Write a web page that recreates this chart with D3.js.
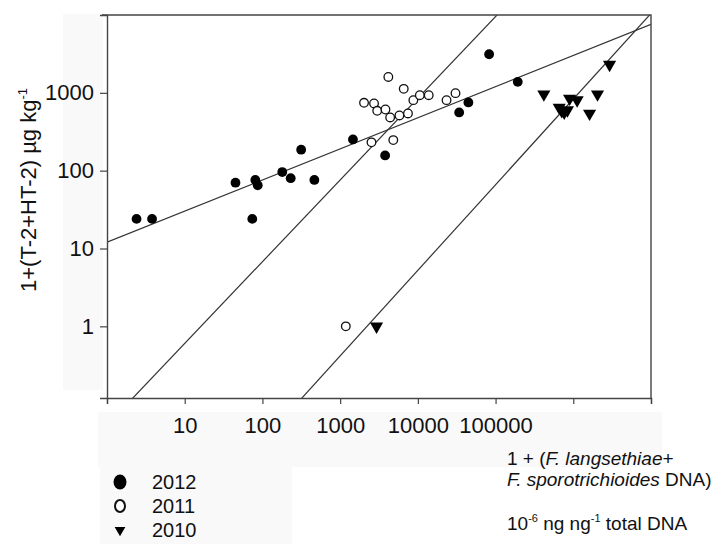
<!DOCTYPE html>
<html>
<head>
<meta charset="UTF-8" />
<title>T-2+HT-2 vs Fusarium DNA</title>
<script src="https://cdn.jsdelivr.net/npm/d3@7"></script>
<style>
  body { margin: 0; background: #fff; }
  svg { font-family: "Liberation Sans", Arial, sans-serif; }
</style>
</head>
<body>
<svg id="chart" width="718" height="544"></svg>
<script>
// axis ticks
const xTicks = [1, 10, 100, 1000, 10000, 100000, 1000000, 10000000];
const xTickLabels = ["", "10", "100", "1000", "10000", "100000", "", ""];
const yTicks = [1, 10, 100, 1000];
const yTickLabels = ["1", "10", "100", "1000"];

// 2012 (filled circles)
const dna2012 = [2.4, 3.8, 45, 74, 81, 87, 180, 231, 315, 466, 1462, 3790, 34000, 44700, 82600, 193000];
const tox2012 = [24, 24, 70, 24, 76, 65, 96, 80, 186, 76, 252, 157, 560, 752, 3130, 1384];
// 2011 (open circles)
const dna2011 = [4170, 6580, 2030, 2730, 3000, 3830, 4400, 5790, 7460, 8750, 10600, 13800, 23400, 30500, 2530, 4830, 1183];
const tox2011 = [1600, 1125, 745, 730, 588, 611, 483, 512, 543, 805, 933, 933, 805, 990, 231, 247, 1.0];
// 2010 (triangles)
const dna2010 = [418000, 659000, 710000, 764000, 841000, 896000, 1120000, 1620000, 2050000, 2930000, 2940];
const tox2010 = [961, 649, 587, 559, 600, 845, 806, 543, 961, 2310, 1.0];

// regression lines, log10(y) = a + b*log10(x)
const fitYears = ["2012", "2011", "2010"];
const fitSlope = [0.40, 1.05, 1.10];
const fitIntercept = [1.08, -1.27, -3.68];

const legendYears = ["2012", "2011", "2010"];

const svg = d3.select("#chart");
const pLeft = 107, pRight = 651, pTop = 15, pBottom = 398;

const x = d3.scaleLog().domain([1, 1e7]).range([pLeft, pRight]);
const y = d3.scaleLog().domain([0.12, 10000]).range([pBottom, pTop]);

// faint patches behind the labels
const bg = "#f9f9f9";
svg.append("rect").attr("x", 63).attr("y", 14).attr("width", 40).attr("height", 376).attr("fill", bg);
svg.append("rect").attr("x", 98).attr("y", 412).attr("width", 564).attr("height", 55).attr("fill", bg);
svg.append("rect").attr("x", 100).attr("y", 467).attr("width", 192).attr("height", 77).attr("fill", bg);

svg.append("defs").append("clipPath").attr("id", "plot")
  .append("rect").attr("x", pLeft).attr("y", pTop).attr("width", pRight - pLeft).attr("height", pBottom - pTop);

// fit lines
const fits = fitYears.map((yr, i) => ({ a: fitIntercept[i], b: fitSlope[i] }));
svg.append("g").attr("clip-path", "url(#plot)")
  .selectAll("line").data(fits).enter().append("line")
  .attr("x1", x(1)).attr("y1", d => y(Math.pow(10, d.a)))
  .attr("x2", x(1e7)).attr("y2", d => y(Math.pow(10, d.a + d.b * 7)))
  .attr("stroke", "#333").attr("stroke-width", 1.2);

// axes
const xAxis = svg.append("g").attr("transform", `translate(0,${pBottom})`)
  .call(d3.axisBottom(x).tickValues(xTicks).tickFormat((d, i) => xTickLabels[i]).tickSize(6).tickPadding(13));
const yAxis = svg.append("g").attr("transform", `translate(${pLeft},0)`)
  .call(d3.axisLeft(y).tickValues(yTicks).tickFormat((d, i) => yTickLabels[i]).tickSize(7).tickPadding(6));
[xAxis, yAxis].forEach(g => {
  g.select(".domain").attr("stroke", "#444").attr("stroke-width", 1.4);
  g.selectAll(".tick line").attr("stroke", "#444").attr("stroke-width", 1.2);
  g.selectAll("text").attr("font-size", 22).attr("fill", "#111")
    .attr("font-family", "Liberation Sans, Arial, sans-serif");
});
// frame top and right
svg.append("path").attr("d", `M${pLeft - 5},${pTop}H${pRight}V${pBottom}`)
  .attr("fill", "none").attr("stroke", "#444").attr("stroke-width", 1.4);

// points
const pts = svg.append("g");
pts.selectAll(".p2012").data(dna2012.map((d, i) => [d, tox2012[i]])).enter()
  .append("circle").attr("cx", d => x(d[0])).attr("cy", d => y(d[1])).attr("r", 4.9).attr("fill", "#000");
pts.selectAll(".p2011").data(dna2011.map((d, i) => [d, tox2011[i]])).enter()
  .append("circle").attr("cx", d => x(d[0])).attr("cy", d => y(d[1])).attr("r", 4.3)
  .attr("fill", "#fff").attr("stroke", "#111").attr("stroke-width", 1.3);
const tri = d3.symbol().type(d3.symbolTriangle).size(75);
pts.selectAll(".p2010").data(dna2010.map((d, i) => [d, tox2010[i]])).enter()
  .append("path").attr("d", tri)
  .attr("transform", d => `translate(${x(d[0])},${y(d[1])}) rotate(180)`).attr("fill", "#000");

// y axis title
const yt = svg.append("text").attr("transform", "translate(36,190) rotate(-90)")
  .attr("text-anchor", "middle").attr("font-size", 22).attr("fill", "#111");
yt.append("tspan").text("1+(T-2+HT-2) µg kg");
yt.append("tspan").attr("font-size", 13).attr("dy", -9).text("-1");

// x axis title
const xt = svg.append("g").attr("font-size", 19).attr("fill", "#111");
const l1 = xt.append("text").attr("x", 507).attr("y", 465);
l1.append("tspan").text("1 + (");
l1.append("tspan").attr("font-style", "italic").text("F. langsethiae");
l1.append("tspan").text("+");
const l2 = xt.append("text").attr("x", 507).attr("y", 486);
l2.append("tspan").attr("font-style", "italic").text("F. sporotrichioides");
l2.append("tspan").text(" DNA)");
const l3 = xt.append("text").attr("x", 507).attr("y", 530);
l3.append("tspan").text("10");
l3.append("tspan").attr("font-size", 11).attr("dy", -8).text("-6");
l3.append("tspan").attr("dy", 8).text(" ng ng");
l3.append("tspan").attr("font-size", 11).attr("dy", -8).text("-1");
l3.append("tspan").attr("dy", 8).text(" total DNA");

// legend
const leg = svg.append("g");
const legY = d3.scalePoint().domain(legendYears).range([482, 530]);
leg.append("ellipse").attr("cx", 120).attr("cy", legY("2012")).attr("rx", 6.5).attr("ry", 7.5).attr("fill", "#000");
leg.append("ellipse").attr("cx", 120).attr("cy", legY("2011")).attr("rx", 5).attr("ry", 6)
  .attr("fill", "#fff").attr("stroke", "#111").attr("stroke-width", 2);
leg.append("path").attr("d", d3.symbol().type(d3.symbolTriangle).size(50))
  .attr("transform", `translate(120,${legY("2010")}) rotate(180)`).attr("fill", "#000");
leg.selectAll("text").data(legendYears).enter().append("text")
  .attr("x", 152).attr("y", d => legY(d) + 7).attr("font-size", 20).attr("fill", "#111").text(d => d);
</script>
</body>
</html>
